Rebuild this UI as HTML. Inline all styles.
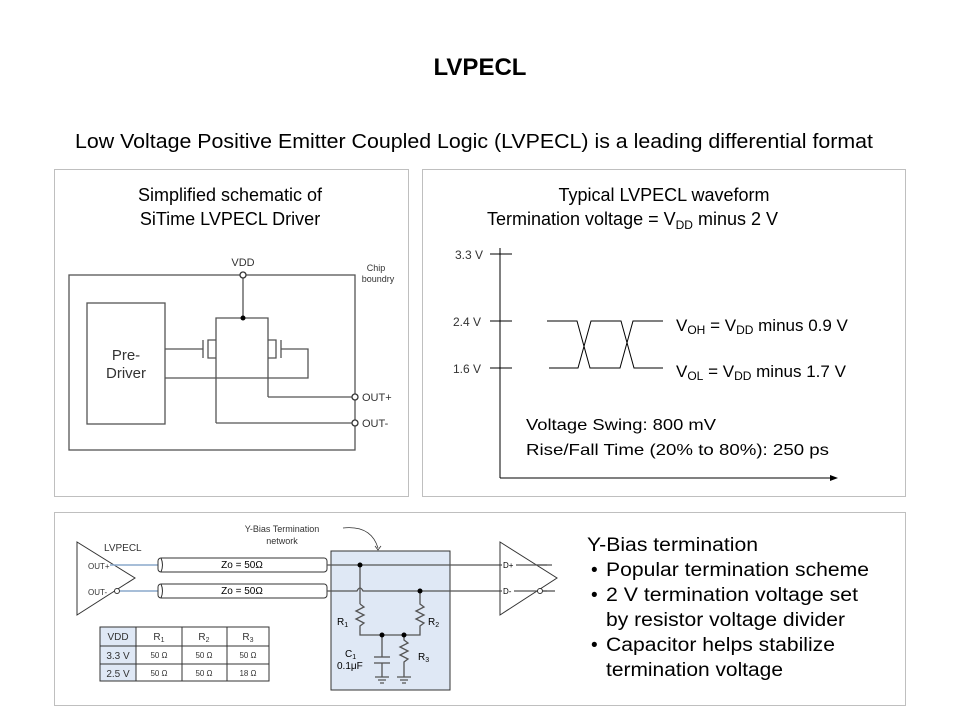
<!DOCTYPE html>
<html><head><meta charset="utf-8"><style>
html,body{margin:0;padding:0;background:#fff;}
svg{display:block;font-family:"Liberation Sans",Arial,sans-serif;}
</style></head><body>
<svg width="960" height="720" viewBox="0 0 960 720" xmlns="http://www.w3.org/2000/svg">
<rect width="960" height="720" fill="#fff"/>
<text x="480" y="75" text-anchor="middle" font-size="24" font-weight="bold">LVPECL</text>
<text x="75" y="148" font-size="20" textLength="798" lengthAdjust="spacingAndGlyphs">Low Voltage Positive Emitter Coupled Logic (LVPECL) is a leading differential format</text>

<rect x="54.5" y="169.5" width="354" height="327" fill="none" stroke="#bfbfbf"/>
<rect x="422.5" y="169.5" width="483" height="327" fill="none" stroke="#bfbfbf"/>
<rect x="54.5" y="512.5" width="851" height="193" fill="none" stroke="#bfbfbf"/>

<text x="230" y="201" text-anchor="middle" font-size="18">Simplified schematic of</text>
<text x="230" y="225" text-anchor="middle" font-size="18">SiTime LVPECL Driver</text>
<g stroke="#555" stroke-width="1.3" fill="none">
<rect x="69" y="275" width="286" height="175"/>
<rect x="87" y="303" width="78" height="121"/>
<line x1="243" y1="278" x2="243" y2="318"/>
<polyline points="216,358 216,318 268,318 268,358"/>
<line x1="216" y1="358" x2="216" y2="423"/>
<line x1="268" y1="358" x2="268" y2="397"/>
<polyline points="216,340 208,340 208,358 216,358"/>
<polyline points="268,340 276,340 276,358 268,358"/>
<line x1="203" y1="340" x2="203" y2="358"/>
<line x1="281" y1="340" x2="281" y2="358"/>
<line x1="165" y1="349" x2="203" y2="349"/>
<polyline points="165,378 308,378 308,349 281,349"/>
<line x1="268" y1="397" x2="352" y2="397"/>
<line x1="216" y1="423" x2="352" y2="423"/>
</g>
<circle cx="243" cy="318" r="2.5" fill="#000"/>
<circle cx="243" cy="275" r="3" fill="#fff" stroke="#333" stroke-width="1.3"/>
<circle cx="355" cy="397" r="3" fill="#fff" stroke="#333" stroke-width="1.3"/>
<circle cx="355" cy="423" r="3" fill="#fff" stroke="#333" stroke-width="1.3"/>
<text x="243" y="266" text-anchor="middle" font-size="11" fill="#333">VDD</text>
<text x="376" y="271" text-anchor="middle" font-size="9" fill="#333">Chip</text>
<text x="378" y="282" text-anchor="middle" font-size="9" fill="#333">boundry</text>
<text x="126" y="360" text-anchor="middle" font-size="15" fill="#333">Pre-</text>
<text x="126" y="378" text-anchor="middle" font-size="15" fill="#333">Driver</text>
<text x="362" y="401" font-size="11" fill="#333">OUT+</text>
<text x="362" y="427" font-size="11" fill="#333">OUT-</text>

<text x="664" y="201" text-anchor="middle" font-size="18">Typical LVPECL waveform</text>
<text x="487" y="225" font-size="18">Termination voltage = V<tspan font-size="12" dy="4">DD</tspan><tspan dy="-4"> minus 2 V</tspan></text>
<g stroke="#000" stroke-width="1" fill="none">
<line x1="500" y1="248" x2="500" y2="478"/>
<line x1="500" y1="478" x2="832" y2="478"/>
<line x1="490" y1="254" x2="512" y2="254"/>
<line x1="490" y1="321" x2="512" y2="321"/>
<line x1="490" y1="368" x2="512" y2="368"/>
<polyline points="547,321 577,321 590,368 620,368 633,321 663,321"/>
<polyline points="549,368 578,368 591,321 621,321 634,368 663,368"/>
</g>
<polygon points="838,478 830,475 830,481" fill="#000"/>
<text x="455" y="259" font-size="12" fill="#333">3.3 V</text>
<text x="453" y="326" font-size="12" fill="#333">2.4 V</text>
<text x="453" y="373" font-size="12" fill="#333">1.6 V</text>
<text x="676" y="331" font-size="17">V<tspan font-size="12" dy="3">OH</tspan><tspan dy="-3"> = V</tspan><tspan font-size="12" dy="3">DD</tspan><tspan dy="-3"> minus 0.9 V</tspan></text>
<text x="676" y="377" font-size="17">V<tspan font-size="12" dy="3">OL</tspan><tspan dy="-3"> = V</tspan><tspan font-size="12" dy="3">DD</tspan><tspan dy="-3"> minus 1.7 V</tspan></text>
<text x="526" y="430" font-size="16" textLength="190" lengthAdjust="spacingAndGlyphs">Voltage Swing: 800 mV</text>
<text x="526" y="455" font-size="16" textLength="303" lengthAdjust="spacingAndGlyphs">Rise/Fall Time (20% to 80%): 250 ps</text>

<rect x="331" y="551" width="119" height="139" fill="#dfe8f5" stroke="#333" stroke-width="1"/>
<polygon points="77,542 77,615 135,578" fill="#fff" stroke="#333"/>
<text x="104" y="551" font-size="10" fill="#333">LVPECL</text>
<text x="88" y="569" font-size="8" fill="#333">OUT+</text>
<text x="88" y="595" font-size="8" fill="#333">OUT-</text>
<circle cx="117" cy="591" r="2.5" fill="#fff" stroke="#333"/>
<line x1="110" y1="565" x2="160" y2="565" stroke="#8aa8cc" stroke-width="1.5"/>
<line x1="120" y1="591" x2="160" y2="591" stroke="#8aa8cc" stroke-width="1.5"/>
<rect x="158" y="558" width="169" height="14" rx="3" fill="#fff" stroke="#333"/>
<rect x="158" y="584" width="169" height="14" rx="3" fill="#fff" stroke="#333"/>
<path d="M161,558 q3,7 0,14 M161,584 q3,7 0,14" fill="none" stroke="#333"/>
<text x="242" y="568" text-anchor="middle" font-size="10">Zo = 50Ω</text>
<text x="242" y="594" text-anchor="middle" font-size="10">Zo = 50Ω</text>
<text x="282" y="532" text-anchor="middle" font-size="9" fill="#333">Y-Bias Termination</text>
<text x="282" y="544" text-anchor="middle" font-size="9" fill="#333">network</text>
<path d="M343,528 q28,-3 35,20" fill="none" stroke="#333" stroke-width="0.8"/>
<path d="M375,546 l3,4 l3,-4" fill="none" stroke="#333" stroke-width="0.8"/>
<g stroke="#555" stroke-width="1.3" fill="none">
<line x1="327" y1="565" x2="547" y2="565"/>
<path d="M327,591 H357 q3,-6 6,0 H547"/>
<line x1="360" y1="565" x2="360" y2="604"/>
<polyline points="360,604 364,607 356,611 364,615 356,619 364,623 360,626 360,635 420,635 420,626 424,623 416,619 424,615 416,611 424,607 420,604 420,591"/>
<line x1="382" y1="635" x2="382" y2="657"/>
<line x1="374" y1="657" x2="390" y2="657"/>
<line x1="374" y1="663" x2="390" y2="663"/>
<line x1="382" y1="663" x2="382" y2="677"/>
<polyline points="404,635 404,640 408,643 400,647 408,651 400,655 408,659 404,662 404,677"/>
<path d="M375,677 h14 M378,680 h8 M380,683 h4 M397,677 h14 M400,680 h8 M402,683 h4"/>
</g>
<circle cx="360" cy="565" r="2.5" fill="#000"/>
<circle cx="420" cy="591" r="2.5" fill="#000"/>
<circle cx="382" cy="635" r="2.5" fill="#000"/>
<circle cx="404" cy="635" r="2.5" fill="#000"/>
<text x="337" y="625" font-size="10">R<tspan font-size="7" dy="2">1</tspan></text>
<text x="428" y="625" font-size="10">R<tspan font-size="7" dy="2">2</tspan></text>
<text x="418" y="660" font-size="10">R<tspan font-size="7" dy="2">3</tspan></text>
<text x="345" y="657" font-size="10">C<tspan font-size="7" dy="2">1</tspan></text>
<text x="337" y="669" font-size="10">0.1μF</text>
<polygon points="500,542 500,615 557,578" fill="#fff" stroke="#333"/>
<line x1="500" y1="565" x2="552" y2="565" stroke="#555" stroke-width="1.3"/>
<line x1="500" y1="591" x2="537" y2="591" stroke="#555" stroke-width="1.3"/>
<line x1="543" y1="591" x2="555" y2="591" stroke="#555" stroke-width="1.3"/>
<circle cx="540" cy="591" r="2.5" fill="#fff" stroke="#333"/>
<rect x="502" y="561" width="14" height="9" fill="#fff"/>
<rect x="502" y="587" width="12" height="9" fill="#fff"/>
<text x="503" y="568" font-size="8">D+</text>
<text x="503" y="594" font-size="8">D-</text>
<g font-size="10" fill="#333">
<rect x="100" y="627" width="169" height="54" fill="#fff" stroke="#333"/>
<rect x="100" y="627" width="36" height="54" fill="#dfe8f5" stroke="#333"/>
<line x1="182" y1="627" x2="182" y2="681" stroke="#333"/>
<line x1="227" y1="627" x2="227" y2="681" stroke="#333"/>
<line x1="100" y1="646" x2="269" y2="646" stroke="#333"/>
<line x1="100" y1="664" x2="269" y2="664" stroke="#333"/>
<text x="118" y="640" text-anchor="middle">VDD</text>
<text x="159" y="640" text-anchor="middle">R<tspan font-size="7" dy="2">1</tspan></text>
<text x="204" y="640" text-anchor="middle">R<tspan font-size="7" dy="2">2</tspan></text>
<text x="248" y="640" text-anchor="middle">R<tspan font-size="7" dy="2">3</tspan></text>
<text x="118" y="659" text-anchor="middle">3.3 V</text>
<text x="118" y="677" text-anchor="middle">2.5 V</text>
<g font-size="8">
<text x="159" y="658" text-anchor="middle">50 Ω</text>
<text x="204" y="658" text-anchor="middle">50 Ω</text>
<text x="248" y="658" text-anchor="middle">50 Ω</text>
<text x="159" y="676" text-anchor="middle">50 Ω</text>
<text x="204" y="676" text-anchor="middle">50 Ω</text>
<text x="248" y="676" text-anchor="middle">18 Ω</text>
</g>
</g>
<g font-size="19">
<text x="587" y="551" textLength="171" lengthAdjust="spacingAndGlyphs">Y-Bias termination</text>
<text x="591" y="576">•</text><text x="606" y="576" textLength="263" lengthAdjust="spacingAndGlyphs">Popular termination scheme</text>
<text x="591" y="601">•</text><text x="606" y="601" textLength="252" lengthAdjust="spacingAndGlyphs">2 V termination voltage set</text>
<text x="606" y="626" textLength="239" lengthAdjust="spacingAndGlyphs">by resistor voltage divider</text>
<text x="591" y="651">•</text><text x="606" y="651" textLength="229" lengthAdjust="spacingAndGlyphs">Capacitor helps stabilize</text>
<text x="606" y="676" textLength="177" lengthAdjust="spacingAndGlyphs">termination voltage</text>
</g>
</svg>
</body></html>
